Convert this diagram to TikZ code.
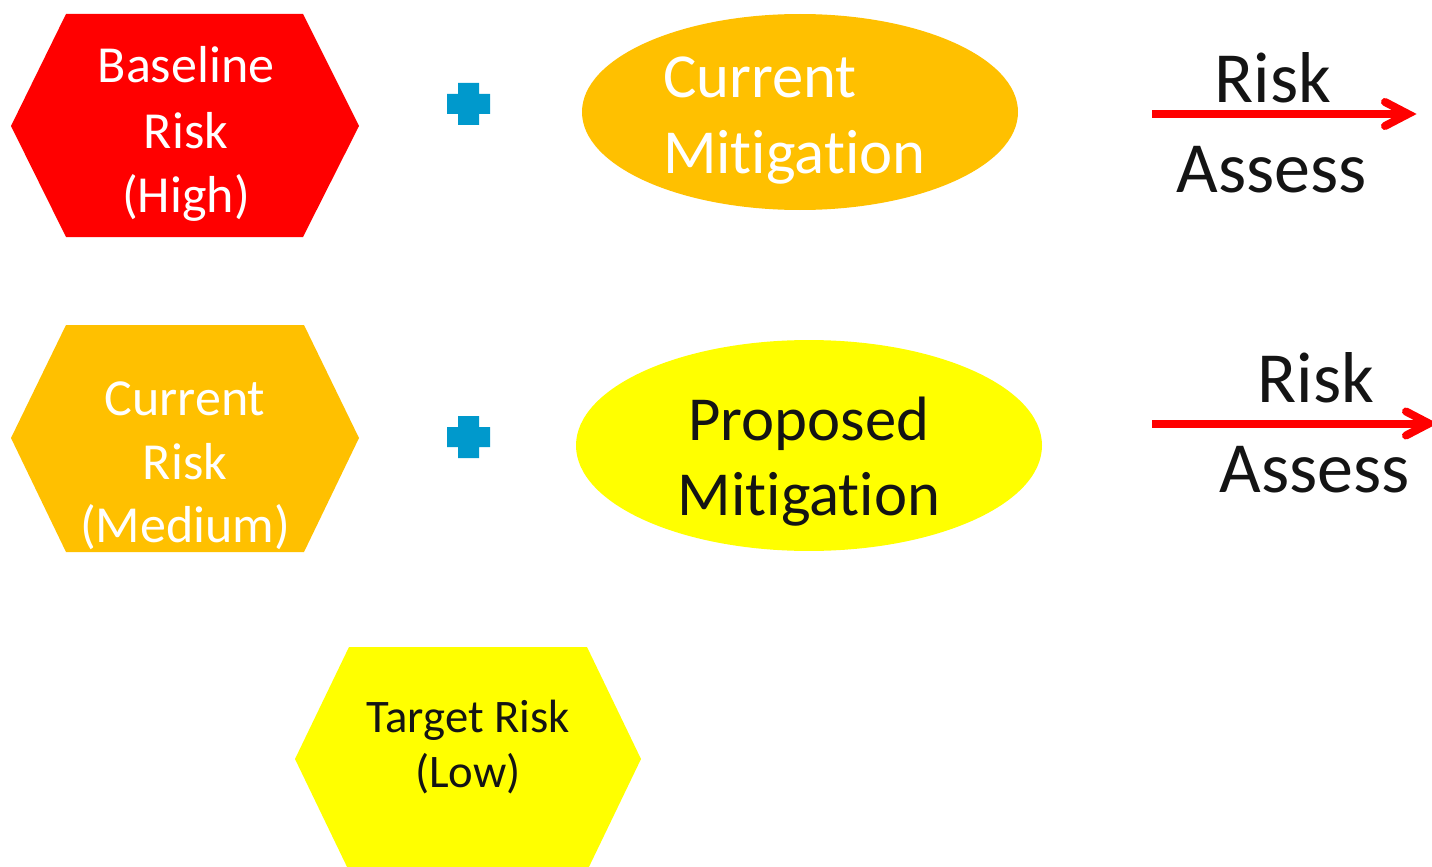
\documentclass[tikz,border=0pt]{standalone}
\usepackage{fontspec}
\setmainfont{Carlito}[Ligatures=NoCommon]
\usetikzlibrary{calc}
\definecolor{hexred}{RGB}{255,0,0}
\definecolor{amber}{RGB}{255,192,0}
\definecolor{lemon}{RGB}{255,255,0}
\definecolor{plusblue}{RGB}{0,153,204}
\definecolor{ink}{RGB}{20,20,20}
\tikzset{
  hexfill/.style={fill=#1, draw=none},
  lbl/.style={anchor=base, inner sep=0pt, outer sep=0pt},
  hexlabel/.style={lbl, font=\fontsize{39}{39}\selectfont},
  elllabel/.style={lbl, font=\fontsize{47}{47}\selectfont},
  risklabel/.style={lbl, font=\fontsize{54}{54}\selectfont, text=ink},
  arrowline/.style={draw=hexred, line width=6pt, line cap=butt},
  arrowhead/.style={draw=hexred, line width=6pt, line cap=round, line join=miter},
  plus/.style={fill=plusblue, draw=none}
}
\begin{document}
\begin{tikzpicture}[x=0.75pt, y=-0.75pt]
\useasboundingbox (0,0) rectangle (1432,867);
\clip (0,0) rectangle (1432,867);
% hexagons
\fill[hexfill=hexred] (66,14) -- (303,14) -- (359,126) -- (303,237) -- (66,237) -- (11,126) -- cycle;
\fill[hexfill=amber] (66,325) -- (304,325) -- (359,438) -- (304,552) -- (66,552) -- (11,438) -- cycle;
\fill[hexfill=lemon] (349,647) -- (587,647) -- (641,759) -- (587,871) -- (349,871) -- (295,759) -- cycle;
% ellipses
\fill[amber] (800,112) ellipse [x radius=163.5pt, y radius=73.5pt];
\fill[lemon] (809,445.5) ellipse [x radius=174.75pt, y radius=79.1pt];
% plus signs
\fill[plus] (458,83) -- (479,83) -- (479,94) -- (490,94) -- (490,114) -- (479,114) -- (479,125) -- (458,125) -- (458,114) -- (447,114) -- (447,94) -- (458,94) -- cycle;
\fill[plus] (458,416) -- (479,416) -- (479,427) -- (490,427) -- (490,447) -- (479,447) -- (479,458) -- (458,458) -- (458,447) -- (447,447) -- (447,427) -- (458,427) -- cycle;
% hexagon labels
\node[hexlabel, text=white] (b1) at (186,83) {Baseline};
\node[hexlabel, text=white] (b2) at (186,148) {Risk};
\node[hexlabel, text=white] (b3) at (186,212) {(High)};
\node[hexlabel, text=white] (c1) at (185,415) {Current};
\node[hexlabel, text=white] (c2) at (185,479) {Risk};
\node[hexlabel, text=white] (c3) at (185,542) {(Medium)};
\node[lbl, font=\fontsize{35}{35}\selectfont, text=ink] (t1) at (468,732) {Target Risk};
\node[lbl, font=\fontsize{35}{35}\selectfont, text=ink] (t2) at (468,787) {(Low)};
% ellipse labels
\node[elllabel, text=white, anchor=base west] (m1) at (663,98) {Current};
\node[elllabel, text=white, anchor=base west] (m2) at (663,173) {Mitigation};
\node[elllabel, text=ink] (p1) at (809,440) {Proposed};
\node[elllabel, text=ink] (p2) at (809,515) {Mitigation};
% arrows
\coordinate (a1s) at (1152,114);
\coordinate (a1e) at (1408,114);
\coordinate (a2s) at (1152,423.5);
\coordinate (a2e) at (1429,423.5);
\draw[arrowline] (a1s) -- (a1e);
\draw[arrowhead] ($(a1e)+(-23,-12)$) -- (a1e) -- ($(a1e)+(-23,12)$);
\draw[arrowline] (a2s) -- (a2e);
\draw[arrowhead] ($(a2e)+(-23,-12)$) -- (a2e) -- ($(a2e)+(-23,12)$);
\node[risklabel] (r1) at (1273,103) {Risk};
\node[risklabel] (r2) at (1272,192) {Assess};
\node[risklabel] (r3) at (1316,402) {Risk};
\node[risklabel] (r4) at (1315,492) {Assess};
\end{tikzpicture}
\end{document}
